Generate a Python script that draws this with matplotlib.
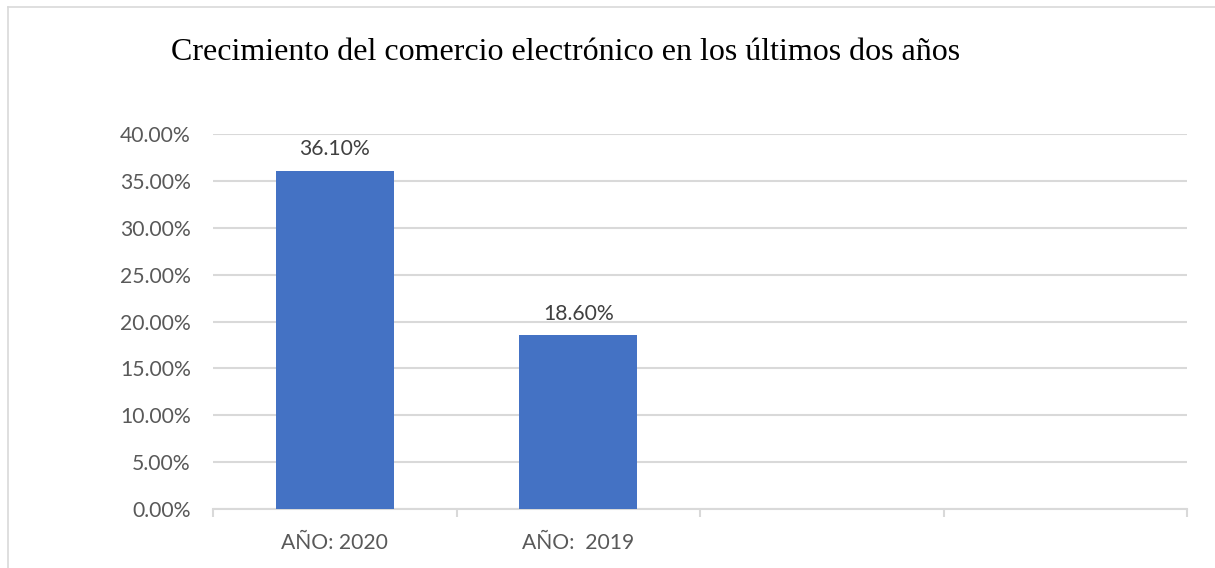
import matplotlib
matplotlib.use("Agg")
import matplotlib.pyplot as plt
from matplotlib.lines import Line2D
from matplotlib.ticker import FuncFormatter, FixedLocator

categories = ["AÑO: 2020", "AÑO:  2019", "", ""]
values = [36.10, 18.60]
yticks = [0, 5, 10, 15, 20, 25, 30, 35, 40]
title = "Crecimiento del comercio electrónico en los últimos dos años"

BAR = "#4472C4"
GRID = "#D9D9D9"
TXT = "#595959"
SANS = ["Lato", "DejaVu Sans"]
FS = 15.2

fig = plt.figure(figsize=(12.15, 5.68), dpi=100)
ax = fig.add_axes([213/1215, 1-509/568, (1187-213)/1215, (509-134)/568])

x = list(range(len(categories)))
bars = ax.bar(x[:len(values)], values, width=0.485, color=BAR, zorder=3)
for b, v in zip(bars, values):
    ax.annotate(f"{v:.2f}%", (b.get_x() + b.get_width()/2, b.get_height()),
                xytext=(0, 8), textcoords="offset points", ha="center", va="bottom",
                fontsize=FS, color="#404040", family=SANS)

ax.set_xlim(-0.5, len(categories) - 0.5)
ax.set_ylim(0, 40)
ax.set_yticks(yticks)
ax.yaxis.set_major_formatter(FuncFormatter(lambda v, p: f"{v:.2f}%"))
ax.yaxis.grid(True, color=GRID, linewidth=1.5, zorder=0)
ax.tick_params(axis="y", length=0, pad=16, labelsize=FS, labelcolor=TXT)
for lab in ax.get_yticklabels():
    lab.set_family(SANS)

ax.xaxis.set_major_locator(FixedLocator([i - 0.5 for i in range(len(categories) + 1)]))
ax.xaxis.set_major_formatter(FuncFormatter(lambda v, p: ""))
ax.set_xticks(x, minor=True)
ax.set_xticklabels(categories, minor=True)
ax.tick_params(axis="x", which="major", length=6, width=1.5, color=GRID, direction="out")
ax.tick_params(axis="x", which="minor", length=0, pad=17, labelsize=FS, labelcolor=TXT)
for lab in ax.get_xticklabels(minor=True):
    lab.set_family(SANS)

for s in ["top", "right", "left"]:
    ax.spines[s].set_visible(False)
ax.spines["bottom"].set_color(GRID)
ax.spines["bottom"].set_linewidth(1.5)

fig.text(566/1215, 1-53/568, title, ha="center", va="center",
         fontsize=23, family=["Liberation Serif", "DejaVu Serif"], color="black")

fig.add_artist(Line2D([8/1215, 8/1215], [0, 1-7/568], color="#D9D9D9", linewidth=1.2,
                      transform=fig.transFigure))
fig.add_artist(Line2D([8/1215, 1], [1-7/568, 1-7/568], color="#D9D9D9", linewidth=1.2,
                      transform=fig.transFigure))

fig.savefig("out.png", dpi=100)
